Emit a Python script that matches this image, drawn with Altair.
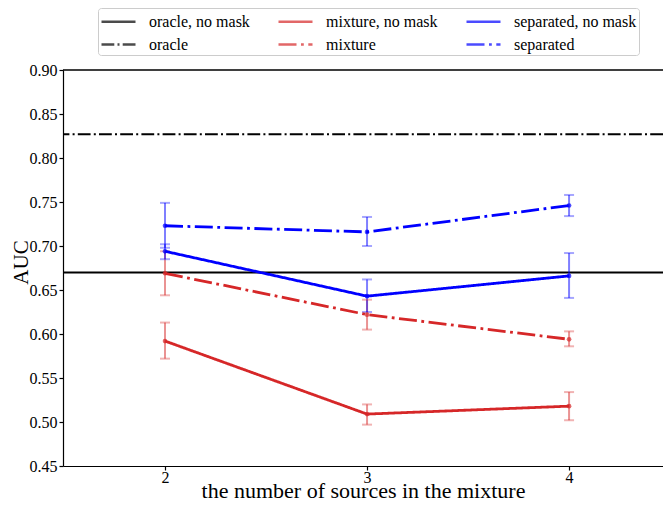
import altair as alt
import pandas as pd

# ---------------- data ----------------
sources = [2, 3, 4]
series_order = ["oracle, no mask", "mixture, no mask", "separated, no mask",
                "oracle", "mixture", "separated"]
series_colors = ["#000000", "#d62728", "#0000ff", "#000000", "#d62728", "#0000ff"]

oracle_no_mask_auc = 0.670
oracle_auc = 0.827

mixture_no_mask = [0.592, 0.509, 0.518]
mixture_no_mask_lo = [0.572, 0.497, 0.502]
mixture_no_mask_hi = [0.613, 0.520, 0.534]

mixture = [0.669, 0.622, 0.594]
mixture_lo = [0.644, 0.605, 0.586]
mixture_hi = [0.694, 0.639, 0.603]

separated_no_mask = [0.694, 0.643, 0.666]
separated_no_mask_lo = [0.685, 0.625, 0.641]
separated_no_mask_hi = [0.702, 0.662, 0.692]

separated = [0.723, 0.716, 0.746]
separated_lo = [0.698, 0.700, 0.734]
separated_hi = [0.749, 0.733, 0.758]

y_ticks = [0.45, 0.50, 0.55, 0.60, 0.65, 0.70, 0.75, 0.80, 0.85, 0.90]

RED = "#d62728"
BLUE = "#0000ff"
RED_A = "rgba(214,39,40,0.5)"
BLUE_A = "rgba(0,0,255,0.5)"

# ---------------- tables ----------------
rows = []
for name, col, col_a, vals, lo, hi in [
    ("mixture, no mask", RED, RED_A, mixture_no_mask, mixture_no_mask_lo, mixture_no_mask_hi),
    ("mixture", RED, RED_A, mixture, mixture_lo, mixture_hi),
    ("separated, no mask", BLUE, BLUE_A, separated_no_mask, separated_no_mask_lo, separated_no_mask_hi),
    ("separated", BLUE, BLUE_A, separated, separated_lo, separated_hi),
]:
    for x, v, l, h in zip(sources, vals, lo, hi):
        rows.append({"series": name, "col": col, "col_a": col_a,
                     "x": x, "y": v, "lo": l, "hi": h})
df = pd.DataFrame(rows)

oracle_df = pd.DataFrame({"series": ["oracle, no mask", "oracle"],
                          "y": [oracle_no_mask_auc, oracle_auc]})

FONT = "Liberation Serif"
DASHDOT_THIN = [12.8, 3.2, 2, 3.2]
DASHDOT = [18, 4.5, 2.8, 4.5]
dash_range = [[1, 0], [1, 0], [1, 0], DASHDOT_THIN, DASHDOT, DASHDOT]

legend = alt.Legend(
    title=None, orient="none", legendX=35, legendY=-62,
    columns=3, direction="horizontal",
    symbolType="M-1,0H2.4", symbolSize=400, symbolStrokeWidth=2.5, symbolOpacity=1,
    labelFont=FONT, labelFontSize=16, labelColor="black", labelLimit=0,
    labelOffset=26, columnPadding=23, rowPadding=3,
    strokeColor="#cccccc", fillColor="white", padding=2, cornerRadius=3,
)

color_enc = alt.Color("series:N", scale=alt.Scale(domain=series_order, range=series_colors),
                      legend=legend, sort=series_order)
dash_enc = alt.StrokeDash("series:N", scale=alt.Scale(domain=series_order, range=dash_range),
                          legend=legend, sort=series_order)

x_scale = alt.Scale(domain=[1.495, 4.465], nice=False, zero=False)
y_scale = alt.Scale(domain=[0.45, 0.90], nice=False, zero=False)

x_enc = alt.X("x:Q", scale=x_scale,
              axis=alt.Axis(values=sources, format="d", grid=False,
                            labelFont=FONT, labelFontSize=16, labelColor="black",
                            labelBaseline="alphabetic", labelPadding=12,
                            title="the number of sources in the mixture",
                            titleFont=FONT, titleFontSize=22, titleFontWeight="normal",
                            titleColor="black", titleBaseline="alphabetic", titleY=31))
y_axis = alt.Axis(values=y_ticks, format=".2f", grid=False,
                  labelFont=FONT, labelFontSize=16, labelColor="black", labelPadding=2,
                  title="AUC", titleFont=FONT, titleFontSize=21, titleFontWeight="normal",
                  titleColor="black", titleBaseline="alphabetic", titleX=-36, titleY=192)

oracle_rules = alt.Chart(oracle_df).mark_rule(strokeWidth=2).encode(
    y=alt.Y("y:Q", scale=y_scale, axis=y_axis),
    color=color_enc, strokeDash=dash_enc,
)

top_frame = alt.Chart(oracle_df).mark_rule(strokeWidth=1.2, color="black").encode(
    y=alt.datum(0.90)
)

err = alt.Chart(df).mark_rule(strokeWidth=2).encode(
    x=x_enc, y=alt.Y("lo:Q", scale=y_scale), y2="hi:Q",
    color=alt.Color("col_a:N", scale=None),
)
cap_lo = alt.Chart(df).mark_tick(orient="horizontal", size=10, thickness=2).encode(
    x=x_enc, y=alt.Y("lo:Q", scale=y_scale), color=alt.Color("col_a:N", scale=None),
)
cap_hi = alt.Chart(df).mark_tick(orient="horizontal", size=10, thickness=2).encode(
    x=x_enc, y=alt.Y("hi:Q", scale=y_scale), color=alt.Color("col_a:N", scale=None),
)

lines = alt.Chart(df).mark_line(strokeWidth=2.8).encode(
    x=x_enc, y=alt.Y("y:Q", scale=y_scale),
    color=color_enc, strokeDash=dash_enc,
)
points = alt.Chart(df).mark_circle(size=22).encode(
    x=x_enc, y=alt.Y("y:Q", scale=y_scale), color=alt.Color("col:N", scale=None),
)

chart = alt.layer(oracle_rules, top_frame, err, cap_lo, cap_hi, lines, points).properties(
    width=600, height=396,
    autosize=alt.AutoSizeParams(type="none"),
    padding={"left": 55, "top": 62, "right": 0, "bottom": 36},
).configure(font=FONT).configure_view(stroke=None).configure_axis(
    labelFont=FONT, titleFont=FONT,
    domainColor="black", domainWidth=1.2, tickColor="black", tickSize=4, tickWidth=1.2,
).configure_legend(labelFont=FONT)

chart.save("out.html", embed_options={"renderer": "svg", "actions": False})
